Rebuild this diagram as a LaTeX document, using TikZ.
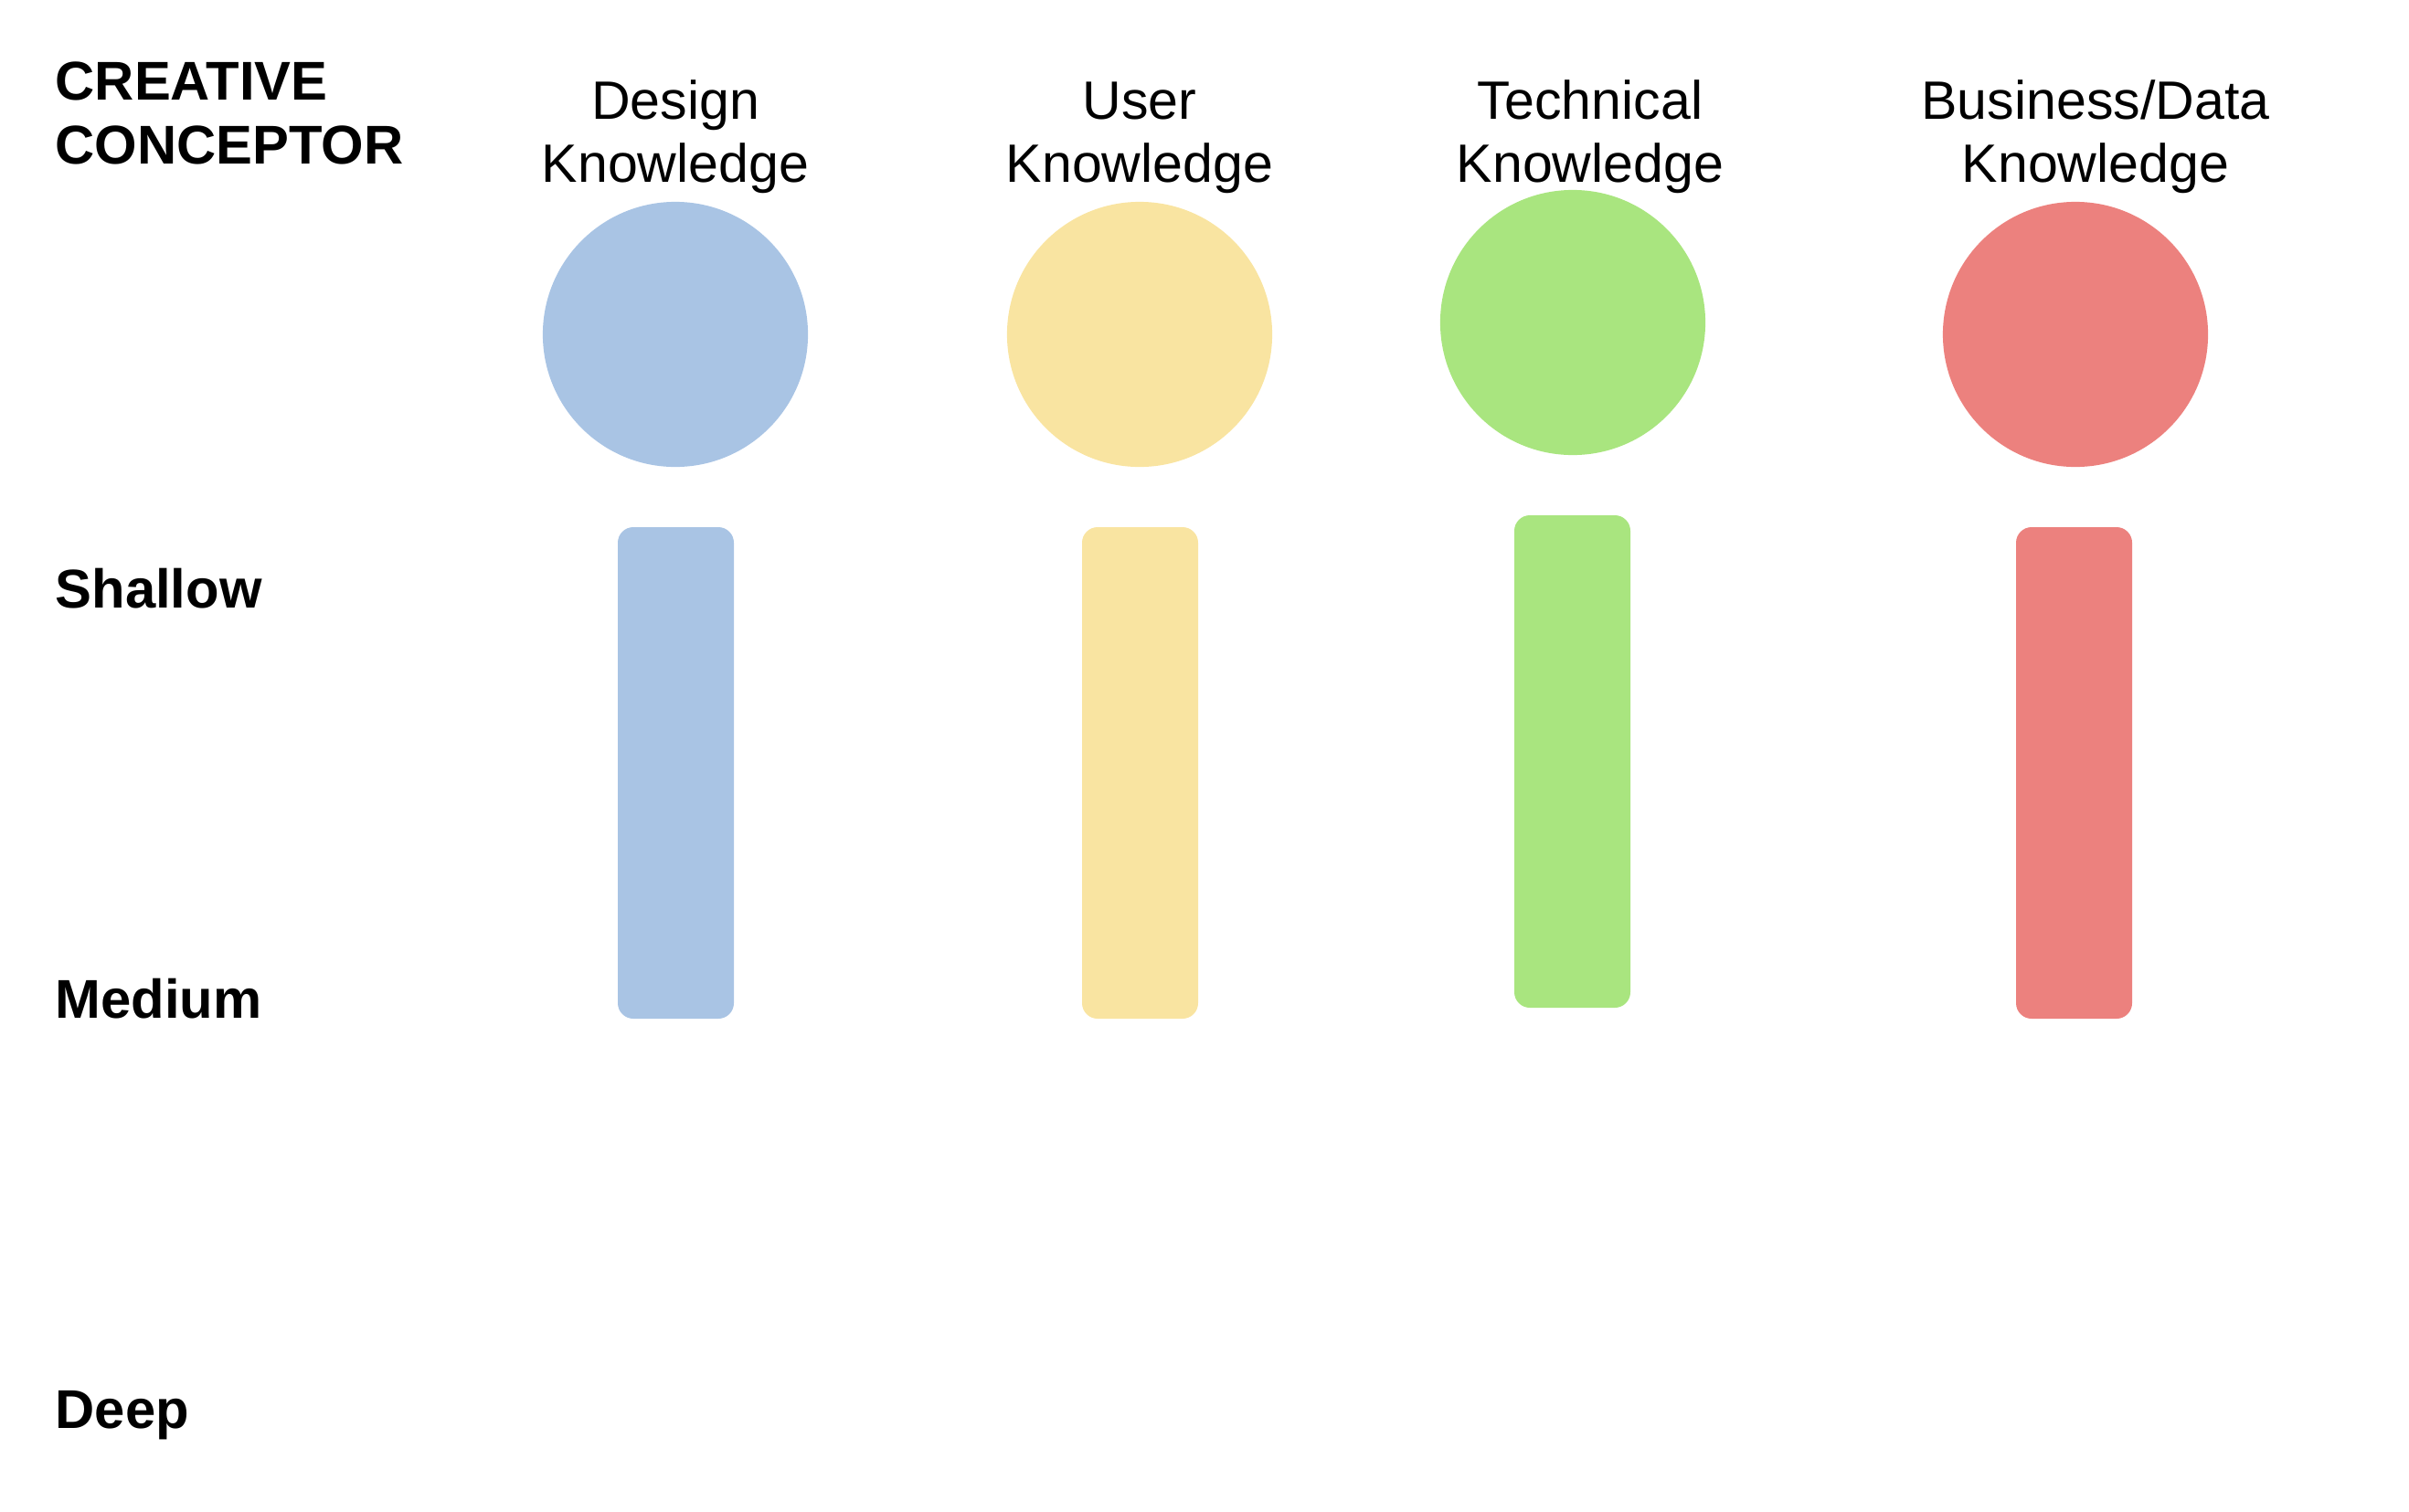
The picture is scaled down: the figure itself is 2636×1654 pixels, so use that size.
\documentclass[tikz,border=0pt]{standalone}
\usepackage{fontspec}
\setmainfont{Liberation Sans}
\begin{document}
\begin{tikzpicture}[x=0.01cm,y=-0.01cm,
  headfont/.style={font=\fontsize{16.8pt}{19.4pt}\selectfont},
  levelfont/.style={font=\fontsize{17pt}{19.8pt}\selectfont\bfseries},
  colhead/.style={headfont, align=center, inner sep=0pt, anchor=base},
  level/.style={levelfont, inner sep=0pt, anchor=base west},
  ball/.style={circle, minimum size=2.9cm, inner sep=0pt},
  bar/.style={rounded corners=0.17cm},
]
\definecolor{cblue}{HTML}{A9C4E4}
\definecolor{cyellow}{HTML}{F9E4A1}
\definecolor{cgreen}{HTML}{A9E57F}
\definecolor{cred}{HTML}{EC817E}
\useasboundingbox (0,0) rectangle (2636,1654);

% title and depth levels
\node[levelfont, align=left, inner sep=0pt, anchor=base west] (title) at (60,179) {CREATIVE\\CONCEPTOR};
\node[level] (shallow) at (60,665) {Shallow};
\node[level] (medium) at (60,1114) {Medium};
\node[level] (deep) at (60,1563) {Deep};

% column headings
\node[colhead] (hdesign) at (739,199) {Design\\Knowledge};
\node[colhead] (huser) at (1247,199) {User\\Knowledge};
\node[colhead] (htech) at (1740,199) {Technical\\Knowledge};
\node[colhead] (hbiz) at (2293,199) {Business/Data\\Knowledge};

% knowledge circles
\node[ball, fill=cblue] (cdesign) at (739,366) {};
\node[ball, fill=cyellow] (cuser) at (1247,366) {};
\node[ball, fill=cgreen] (ctech) at (1721,353) {};
\node[ball, fill=cred] (cbiz) at (2271,366) {};

% depth bars
\fill[cblue, bar] (676,577) rectangle (803,1115);
\fill[cyellow, bar] (1184,577) rectangle (1311,1115);
\fill[cgreen, bar] (1657,564) rectangle (1784,1103);
\fill[cred, bar] (2206,577) rectangle (2333,1115);
\end{tikzpicture}
\end{document}
